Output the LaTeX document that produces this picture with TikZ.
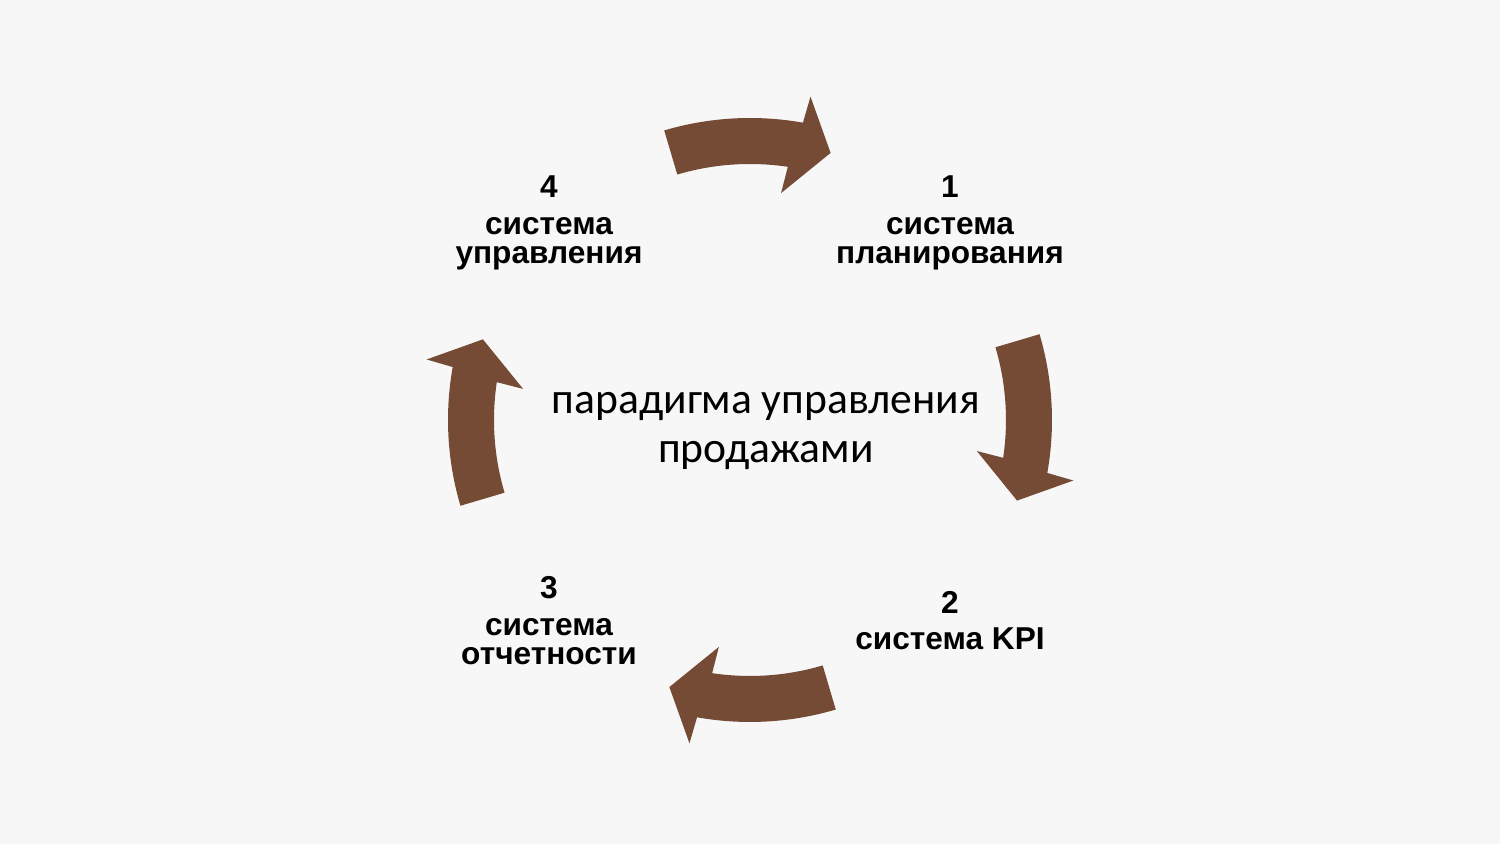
\documentclass[tikz,border=0pt]{standalone}
\usepackage{fontspec}
\newfontfamily\labelfont{Liberation Sans}
\newfontfamily\centerfont{Carlito}
\usepackage{tikz}
\usetikzlibrary{calc}
\definecolor{arrowbrown}{RGB}{118,75,54}
\definecolor{paper}{RGB}{247,247,247}

\begin{document}
\begin{tikzpicture}[
    lbl/.style={font=\labelfont\bfseries\fontsize{9.0}{8.3}\selectfont, align=center, anchor=base},
    ctr/.style={font=\centerfont\fontsize{12.4}{14.2}\selectfont, align=center, anchor=base}]
    \fill[paper] (-7.5,-4.24) rectangle (7.5,4.20);
    \useasboundingbox (-7.5,-4.24) rectangle (7.5,4.20);
    \coordinate (O) at (0,0);
    \foreach \a in {90,0,-90,180} {
        \fill[arrowbrown] ($(O)+(\a+16.5:3.02)$) arc[start angle=\a+16.5, end angle=\a-10.1, radius=3.02]
            -- ($(O)+(\a-10.6:3.29)$) -- ($(O)+(\a-16.8:2.79)$) -- ($(O)+(\a-7.8:2.29)$)
            -- ($(O)+(\a-8.5:2.56)$) arc[start angle=\a-8.5, end angle=\a+16.5, radius=2.56] -- cycle;
    }
    \node[lbl] (plan) at (2.00,1.56) {1\\[2.2pt]система\\планирования};
    \node[lbl] (kpi) at (2.00,-2.30) {2\\[2.2pt]система KPI};
    \node[lbl] (report) at (-2.01,-2.45) {3\\[2.2pt]система\\отчетности};
    \node[lbl] (control) at (-2.01,1.56) {4\\[2.2pt]система\\управления};
    \node[ctr] (paradigm) at (0.16,-0.43) {парадигма управления\\продажами};
\end{tikzpicture}
\end{document}
